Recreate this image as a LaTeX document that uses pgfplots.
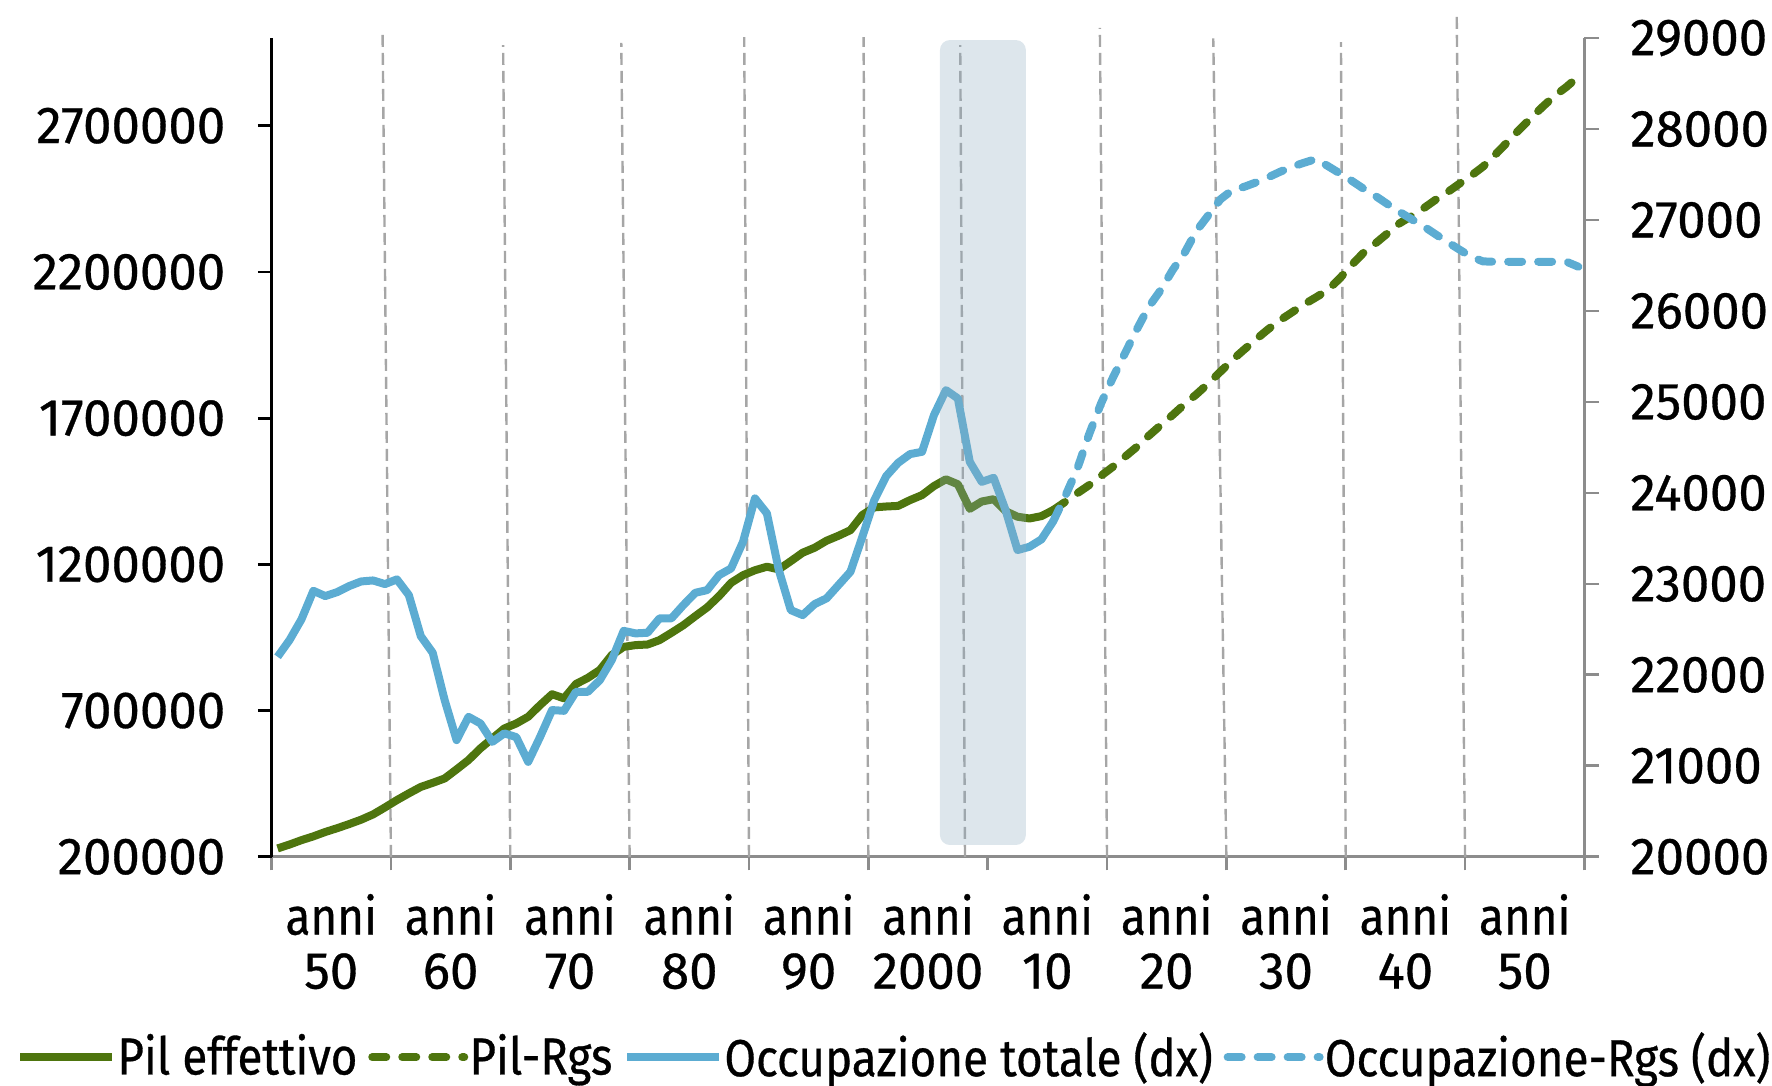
\documentclass[border=0pt]{standalone}
\usepackage{pgfplots}
\pgfplotsset{compat=1.18}
\usepackage{pgfplotstable}
\usepackage{fontspec}
\setmainfont{Fira Sans}[FakeStretch=0.88, FakeBold=0.6]
\newfontfamily\numfont{Fira Sans}[FakeStretch=0.98, FakeBold=0.6]
\definecolor{pilgreen}{RGB}{78,117,14}
\definecolor{occblue}{RGB}{92,172,210}
\definecolor{bandcol}{RGB}{142,172,192}
\definecolor{gridgray}{RGB}{166,166,166}
\definecolor{axgray}{RGB}{140,140,140}
\newcommand{\chartfont}{\fontsize{13}{13.5}\selectfont}
\newcommand{\yr}[1]{\textnormal{anni}\\{\numfont #1}}

\pgfplotstableread{
year v
1951 228700
1952 242000
1953 257000
1954 270000
1955 285000
1956 298000
1957 312000
1958 327000
1959 345000
1960 369000
1961 394000
1962 417000
1963 439000
1964 453000
1965 468000
1966 499000
1967 531000
1968 571000
1969 605000
1970 639000
1971 656000
1972 679000
1973 719000
1974 756000
1975 742000
1976 791000
1977 812000
1978 839000
1979 890000
1980 918000
1981 924000
1982 926000
1983 941000
1984 966000
1985 992000
1986 1023000
1987 1053000
1988 1092000
1989 1137000
1990 1163000
1991 1180000
1992 1192000
1993 1183000
1994 1211000
1995 1240000
1996 1257000
1997 1281000
1998 1298000
1999 1317000
2000 1369000
2001 1395000
2002 1398000
2003 1400000
2004 1420000
2005 1437000
2006 1468000
2007 1491000
2008 1474000
2009 1390000
2010 1415000
2011 1423000
2012 1382000
2013 1363000
2014 1357000
2015 1365000
2016 1386000
}\pilhist

\pgfplotstableread{
year v
2016 1386000
2017 1414000
2018 1443000
2019 1471000
2020 1503000
2021 1534000
2022 1568000
2023 1602000
2024 1640000
2025 1676000
2026 1711000
2027 1748000
2028 1782000
2029 1819000
2030 1859000
2031 1899000
2032 1935000
2033 1970000
2034 2004000
2035 2035000
2036 2062000
2037 2089000
2038 2113000
2039 2138000
2040 2178000
2041 2224000
2042 2266000
2043 2298000
2044 2332000
2045 2366000
2046 2391000
2047 2417000
2048 2446000
2049 2472000
2050 2501000
2051 2529000
2052 2560000
2053 2600000
2054 2642000
2055 2685000
2056 2725000
2057 2765000
2058 2802000
2059 2833000
2060 2868000
}\pilrgs

\pgfplotstableread{
year v
1951 22199
1952 22382
1953 22610
1954 22924
1955 22866
1956 22910
1957 22976
1958 23027
1959 23038
1960 22998
1961 23050
1962 22877
1963 22426
1964 22243
1965 21723
1966 21283
1967 21539
1968 21466
1969 21264
1970 21357
1971 21316
1972 21044
1973 21319
1974 21613
1975 21605
1976 21814
1977 21814
1978 21942
1979 22162
1980 22484
1981 22456
1982 22463
1983 22621
1984 22621
1985 22767
1986 22902
1987 22932
1988 23097
1989 23170
1990 23463
1991 23940
1992 23775
1993 23152
1994 22712
1995 22657
1996 22778
1997 22841
1998 22987
1999 23133
2000 23518
2001 23921
2002 24185
2003 24331
2004 24427
2005 24452
2006 24856
2007 25130
2008 25039
2009 24342
2010 24122
2011 24166
2012 23811
2013 23372
2014 23408
2015 23489
2016 23690
}\occhist

\pgfplotstableread{
year v
2016 23690
2017 23965
2018 24262
2019 24645
2020 24984
2021 25270
2022 25534
2023 25798
2024 26046
2025 26230
2026 26450
2027 26640
2028 26882
2029 27054
2030 27227
2031 27329
2032 27365
2033 27414
2034 27469
2035 27530
2036 27585
2037 27629
2038 27670
2039 27593
2040 27513
2041 27431
2042 27343
2043 27263
2044 27175
2045 27090
2046 27010
2047 26933
2048 26845
2049 26760
2050 26677
2051 26596
2052 26545
2053 26541
2054 26541
2055 26541
2056 26541
2057 26541
2058 26541
2059 26541
2060 26486
}\occrgs

\begin{document}
\begin{tikzpicture}
\useasboundingbox (-67.9pt,-57.1pt) rectangle (375.1pt,214.2pt);
\begin{axis}[
  scale only axis, width=328.2pt, height=204.7pt,
  xmin=1950, xmax=2060, ymin=200000, ymax=3000000,
  clip=false,
  scaled x ticks=false, scaled y ticks=false,
  axis x line*=bottom, axis y line*=left,
  x axis line style={axgray, line width=0.7pt, -},
  y axis line style={black, line width=0.7pt, -},
  tick align=outside,
  xtick={1955,1965,1975,1985,1995,2005,2015,2025,2035,2045,2055},
  xticklabels={{\yr{50}},{\yr{60}},{\yr{70}},{\yr{80}},{\yr{90}},{\yr{2000}},{\yr{10}},{\yr{20}},{\yr{30}},{\yr{40}},{\yr{50}}},
  minor xtick={1950,1960,1970,1980,1990,2000,2010,2020,2030,2040,2050,2060},
  major x tick style={draw=none},
  minor x tick style={axgray, line width=0.7pt},
  minor tick length=3.4pt,
  major tick length=3.4pt,
  xticklabel style={font=\chartfont, align=center, anchor=north, inner sep=0pt, yshift=-5.7pt},
  ytick={200000,700000,1200000,1700000,2200000,2700000},
  ytick style={black, line width=0.7pt},
  yticklabel style={font=\numfont\chartfont, anchor=east, inner sep=0pt, xshift=-8pt,
    /pgf/number format/.cd, fixed, precision=0, 1000 sep={}, assume math mode=true},
]
\draw[gridgray, line width=0.6pt, dash pattern=on 3pt off 1.5pt] (axis cs:1960,200000) -- (axis cs:1959.3,3013000);
\draw[gridgray, line width=0.6pt, dash pattern=on 3pt off 1.5pt] (axis cs:1970,200000) -- (axis cs:1969.4,2976000);
\draw[gridgray, line width=0.6pt, dash pattern=on 3pt off 1.5pt] (axis cs:1980,200000) -- (axis cs:1979.3,2983000);
\draw[gridgray, line width=0.6pt, dash pattern=on 3pt off 1.5pt] (axis cs:1990,200000) -- (axis cs:1989.6,3003000);
\draw[gridgray, line width=0.6pt, dash pattern=on 3pt off 1.5pt] (axis cs:2000,200000) -- (axis cs:1999.6,3003000);
\draw[gridgray, line width=0.6pt, dash pattern=on 3pt off 1.5pt] (axis cs:2008.1,200000) -- (axis cs:2007.7,2976000);
\draw[gridgray, line width=0.6pt, dash pattern=on 3pt off 1.5pt] (axis cs:2020,200000) -- (axis cs:2019.4,3035000);
\draw[gridgray, line width=0.6pt, dash pattern=on 3pt off 1.5pt] (axis cs:2030,200000) -- (axis cs:2028.9,2999000);
\draw[gridgray, line width=0.6pt, dash pattern=on 3pt off 1.5pt] (axis cs:2040,200000) -- (axis cs:2039.6,2986000);
\draw[gridgray, line width=0.6pt, dash pattern=on 3pt off 1.5pt] (axis cs:2050,200000) -- (axis cs:2049.3,3078000);
\addplot[pilgreen, line width=2pt, line join=round] table[x expr=\thisrow{year}-0.5, y=v] {\pilhist};
\addplot[pilgreen, line width=2pt, line join=round, line cap=round, dash pattern=on 3.5pt off 4pt] table[x expr=\thisrow{year}-0.5, y=v] {\pilrgs};
\end{axis}
\begin{axis}[
  scale only axis, width=328.2pt, height=204.7pt,
  xmin=1950, xmax=2060, ymin=20000, ymax=29000,
  clip=false,
  scaled x ticks=false, scaled y ticks=false,
  axis x line=none, axis y line*=right,
  y axis line style={axgray, line width=0.7pt, -},
  tick align=outside,
  major tick length=3.7pt,
  ytick={20000,21000,22000,23000,24000,25000,26000,27000,28000,29000},
  ytick style={axgray, line width=0.7pt},
  yticklabel style={font=\numfont\chartfont, anchor=west, inner sep=0pt, xshift=7.6pt,
    /pgf/number format/.cd, fixed, precision=0, 1000 sep={}, assume math mode=true},
  legend style={at={(0.474,-0.2447)}, anchor=center, draw=none, fill=none,
    font=\chartfont, legend columns=4, inner sep=0pt,
    nodes={inner sep=0.3pt},
    /tikz/every odd column/.append style={column sep=0pt},
    /tikz/every even column/.append style={column sep=2.4pt}},
  legend image code/.code={\draw[#1] (0pt,0pt) -- (23pt,0pt);},
]
\addlegendimage{pilgreen, line width=2pt}
\addlegendentry{Pil effettivo}
\addlegendimage{pilgreen, line width=2pt, line cap=round, dash pattern=on 3.5pt off 4pt}
\addlegendentry{Pil-Rgs}
\addplot[occblue, line width=2pt, line join=round] table[x expr=\thisrow{year}-0.5, y=v] {\occhist};
\addlegendentry{Occupazione totale (dx)}
\addplot[occblue, line width=2pt, line join=round, line cap=round, dash pattern=on 3.5pt off 4pt] table[x expr=\thisrow{year}-0.5, y=v] {\occrgs};
\addlegendentry{Occupazione-Rgs (dx)}
\fill[bandcol, opacity=0.3, rounded corners=2.5pt] (axis cs:2006.0,20130) rectangle (axis cs:2013.2,28978);
\end{axis}
\end{tikzpicture}
\end{document}
